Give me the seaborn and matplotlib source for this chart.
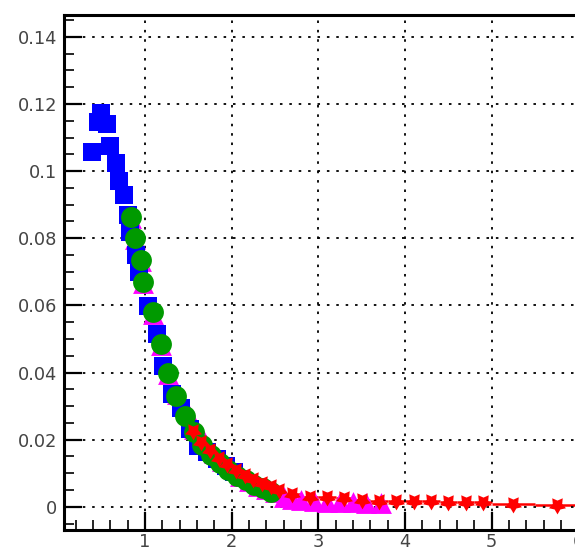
import matplotlib
matplotlib.use("Agg")
import matplotlib.pyplot as plt
import numpy as np
import pandas as pd
import seaborn as sns
from matplotlib.ticker import FixedLocator, MultipleLocator

# Blue squares
blue_x = [0.39, 0.46, 0.49, 0.56, 0.60, 0.66, 0.70, 0.76, 0.80, 0.83, 0.90, 0.93,
          1.03, 1.14, 1.21, 1.31, 1.41, 1.52, 1.61, 1.72, 1.83, 1.93, 2.03]
blue_y = [0.1056, 0.1147, 0.1174, 0.1139, 0.1074, 0.1023, 0.0971, 0.0928, 0.0868,
          0.0820, 0.0749, 0.0700, 0.0597, 0.0514, 0.0419, 0.0335, 0.0293, 0.0232,
          0.0182, 0.0162, 0.0142, 0.0123, 0.0105]

# Green circles
green_x = [0.84, 0.88, 0.95, 0.98, 1.09, 1.19, 1.26, 1.36, 1.46, 1.56, 1.66, 1.76,
           1.86, 1.96, 2.06, 2.16, 2.26, 2.36, 2.45]
green_y = [0.0864, 0.0801, 0.0736, 0.0670, 0.0579, 0.0486, 0.0399, 0.0330, 0.0270,
           0.0222, 0.0185, 0.0155, 0.0130, 0.0110, 0.0093, 0.0079, 0.0066, 0.0055,
           0.0045]

# Magenta triangles
magenta_x = [0.84, 0.88, 0.95, 0.98, 1.09, 1.19, 1.26, 1.37, 1.48, 1.57, 1.68, 1.80,
             1.89, 2.00, 2.10, 2.20, 2.30, 2.40, 2.50, 2.60, 2.70, 2.80, 2.95, 3.10,
             3.25, 3.40, 3.55, 3.72]
magenta_y = [0.0860, 0.0797, 0.0732, 0.0666, 0.0575, 0.0482, 0.0395, 0.0335, 0.0284,
             0.0232, 0.0196, 0.0161, 0.0137, 0.0115, 0.0093, 0.0078, 0.0062, 0.0052,
             0.0043, 0.0030, 0.0024, 0.0021, 0.0016, 0.0014, 0.0013, 0.0013, 0.0012,
             0.0012]

# Red stars with bin half-widths
red_x = [1.55, 1.65, 1.75, 1.85, 1.95, 2.05, 2.15, 2.25, 2.35, 2.45, 2.55,
         2.7, 2.9, 3.1, 3.3, 3.5, 3.7, 3.9, 4.1, 4.3, 4.5, 4.7, 4.9, 5.25, 5.75]
red_y = [0.0225, 0.0192, 0.0168, 0.0146, 0.0127, 0.0110, 0.0096, 0.0083, 0.0071,
         0.0061, 0.0051, 0.0038, 0.0030, 0.0028, 0.0025, 0.0021, 0.0018, 0.0017,
         0.0016, 0.0016, 0.0015, 0.0015, 0.0014, 0.0007, 0.0006]
red_xerr = [0.05] * 11 + [0.1] * 12 + [0.25] * 2

x_ticks = [1, 2, 3, 4, 5, 6]
x_tick_labels = ["1", "2", "3", "4", "5", "6"]
y_ticks = [0, 0.02, 0.04, 0.06, 0.08, 0.10, 0.12, 0.14]
y_tick_labels = ["0", "0.02", "0.04", "0.06", "0.08", "0.1", "0.12", "0.14"]

# Chunky five-pointed star, pointing down
ang = np.deg2rad(-90 + 36 * np.arange(10))
rad = np.where(np.arange(10) % 2 == 0, 1.0, 0.55)
star_verts = np.column_stack([rad * np.cos(ang), rad * np.sin(ang)])

sns.set_style("white")
plt.rcParams["font.family"] = ["DejaVu Sans"]

fig = plt.figure(figsize=(5.75, 5.5), dpi=100)
x_min, x_max = 0.06, 6.3
y_min, y_max = -0.0069, 0.1466
ax = fig.add_axes([63.5 / 575, 20 / 550, (x_max - x_min) * 86.7 / 575, 515.3 / 550])

df_blue = pd.DataFrame({"x": blue_x, "y": blue_y})
df_green = pd.DataFrame({"x": green_x, "y": green_y})
df_mag = pd.DataFrame({"x": magenta_x, "y": magenta_y})
df_red = pd.DataFrame({"x": red_x, "y": red_y, "xerr": red_xerr})

sns.scatterplot(data=df_mag, x="x", y="y", marker="^", s=225, color="#ff00ff",
                linewidth=0, ax=ax, zorder=2)
sns.scatterplot(data=df_blue, x="x", y="y", marker="s", s=169, color="#0000ff",
                linewidth=0, ax=ax, zorder=3)
sns.scatterplot(data=df_green, x="x", y="y", marker="o", s=225, color="#009a00",
                linewidth=0, ax=ax, zorder=4)
ax.errorbar(df_red["x"], df_red["y"], xerr=df_red["xerr"], fmt="none",
            ecolor="#ff0000", elinewidth=1.8, capsize=0, zorder=0.4)
sns.scatterplot(data=df_red, x="x", y="y", marker=star_verts, s=165, color="#ff0000",
                linewidth=0, ax=ax, zorder=5)

ax.set_xlim(x_min, x_max)
ax.set_ylim(y_min, y_max)
ax.set_xlabel("")
ax.set_ylabel("")

ax.xaxis.set_major_locator(FixedLocator(x_ticks))
ax.set_xticklabels(x_tick_labels)
ax.xaxis.set_minor_locator(MultipleLocator(0.2))
ax.yaxis.set_major_locator(FixedLocator(y_ticks))
ax.set_yticklabels(y_tick_labels)
ax.yaxis.set_minor_locator(MultipleLocator(0.005))

ax.tick_params(which="both", direction="in", colors="black", labelcolor="#444444",
               labelsize=12.8, top=False, right=False, left=True, bottom=True)
ax.tick_params(which="major", length=13, width=1.6)
ax.tick_params(which="minor", length=7.2, width=1.2)
ax.tick_params(axis="x", which="major", pad=2.5)
ax.tick_params(axis="y", which="major", pad=4.5)

ax.set_axisbelow(True)
ax.grid(True, which="major", color="black", linestyle=(0, (1.4, 3.8)), linewidth=1.3)

for side in ["left", "bottom", "top", "right"]:
    ax.spines[side].set_linewidth(2.2)
    ax.spines[side].set_color("black")

fig.savefig("out.png", dpi=100)
